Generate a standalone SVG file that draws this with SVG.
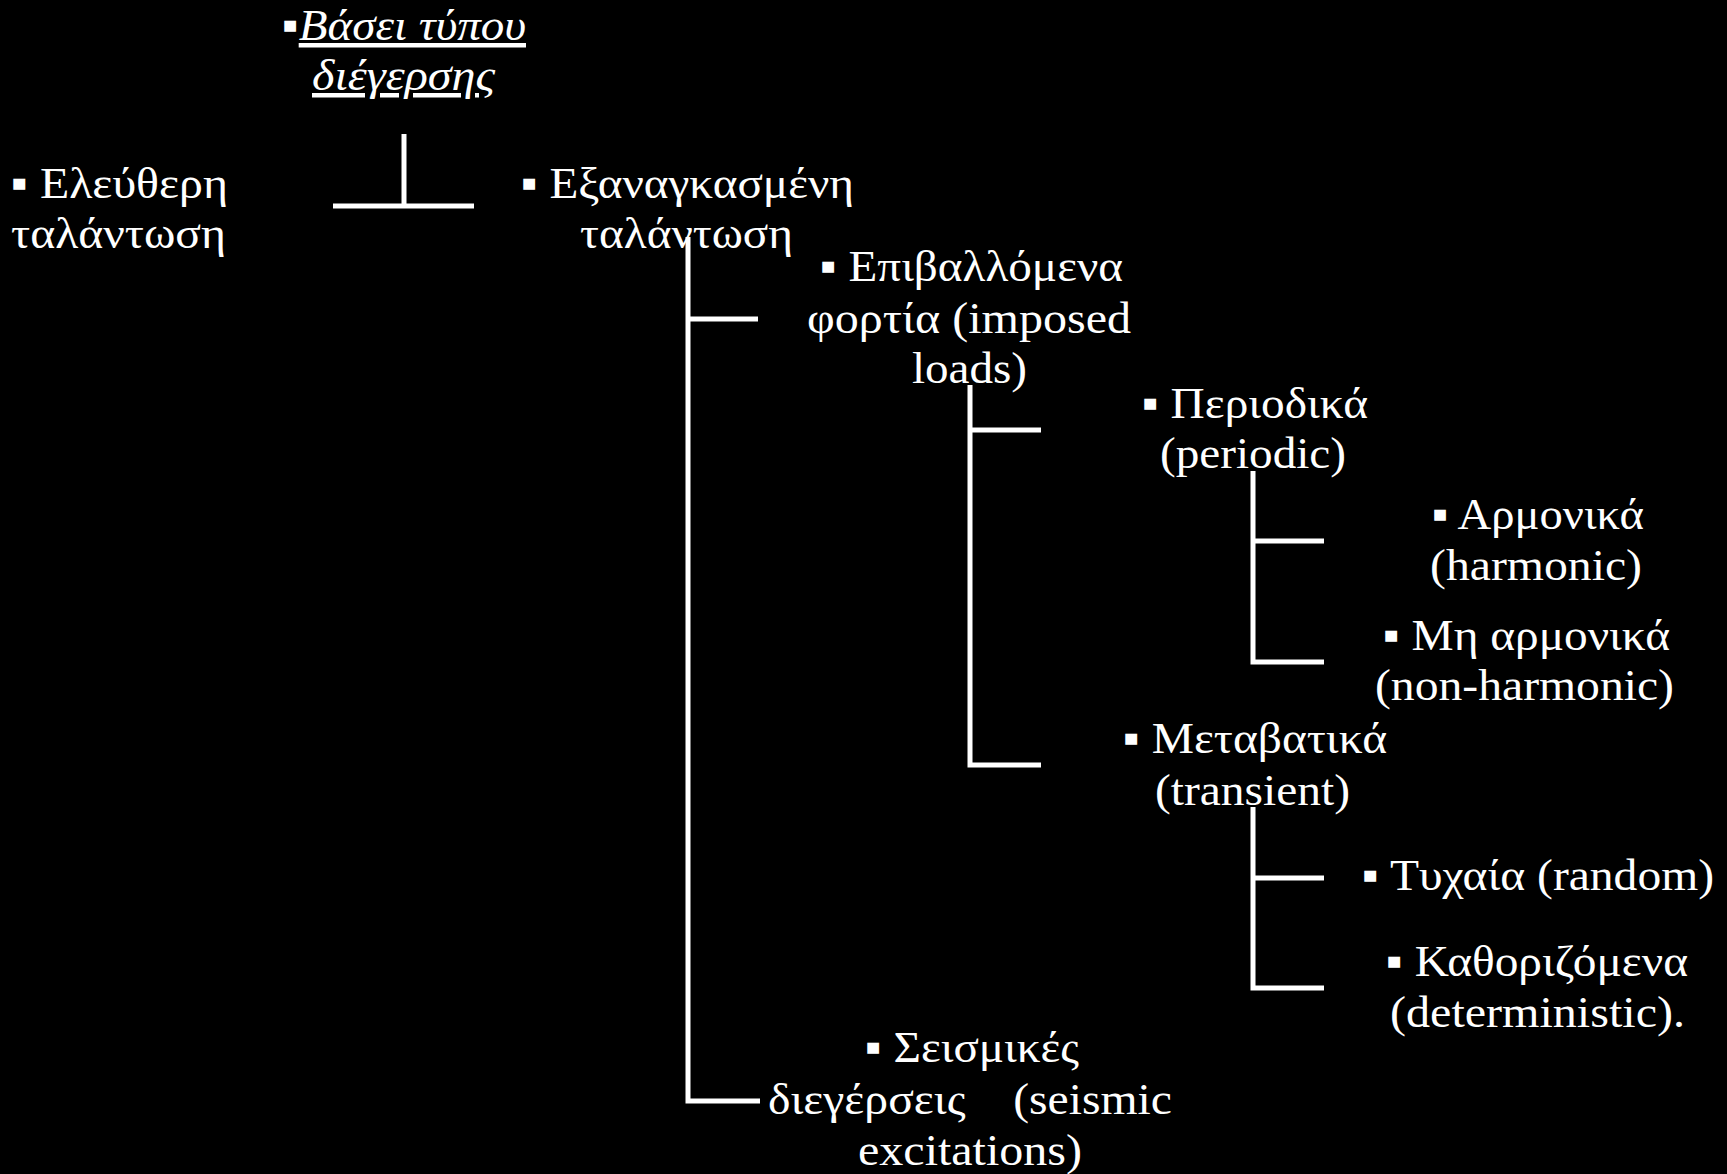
<svg xmlns="http://www.w3.org/2000/svg" width="1727" height="1174" viewBox="0 0 1727 1174">
  <style>
    .bg { fill: #000000; }
    .lbl { font-family: "Liberation Serif", "Times New Roman", serif; font-size: 45px; fill: #ffffff; }
    .ital { font-style: italic; }
    .ul { text-decoration: underline; }
    .wire { stroke: #ffffff; stroke-width: 5; fill: none; stroke-linecap: butt; }
  </style>
  <rect class="bg" x="0" y="0" width="1727" height="1174"/>

  <!-- tree connectors: one bracket per parent, ticks point at each child -->
  <g id="connectors">
    <path class="wire" d="M404,134 V206 M333,206 H474"/>
    <path class="wire" d="M688,237 V1101 H760 M688,319 H758"/>
    <path class="wire" d="M970,385 V765 H1041 M970,430 H1041"/>
    <path class="wire" d="M1253,471 V662 H1324 M1253,541 H1324"/>
    <path class="wire" d="M1253,807 V988 H1324 M1253,878 H1324"/>
  </g>

  <g id="node-criterion">
    <text class="lbl ital" x="282" y="40" textLength="244" lengthAdjust="spacingAndGlyphs">▪<tspan class="ul">Βάσει τύπου</tspan></text>
    <text class="lbl ital ul" x="312" y="90" textLength="183" lengthAdjust="spacingAndGlyphs">διέγερσης</text>
  </g>
  <g id="node-free">
    <text class="lbl" x="11" y="198" textLength="217" lengthAdjust="spacingAndGlyphs">▪ Ελεύθερη</text>
    <text class="lbl" x="11" y="248" textLength="215" lengthAdjust="spacingAndGlyphs">ταλάντωση</text>
  </g>
  <g id="node-forced">
    <text class="lbl" x="521" y="198" textLength="333" lengthAdjust="spacingAndGlyphs">▪ Εξαναγκασμένη</text>
    <text class="lbl" x="580" y="248" textLength="213" lengthAdjust="spacingAndGlyphs">ταλάντωση</text>
  </g>
  <g id="node-imposed">
    <text class="lbl" x="820" y="281" textLength="303" lengthAdjust="spacingAndGlyphs">▪ Επιβαλλόμενα</text>
    <text class="lbl" x="807" y="333" textLength="324" lengthAdjust="spacingAndGlyphs">φορτία (imposed</text>
    <text class="lbl" x="912" y="383" textLength="115" lengthAdjust="spacingAndGlyphs">loads)</text>
  </g>
  <g id="node-periodic">
    <text class="lbl" x="1142" y="418" textLength="226" lengthAdjust="spacingAndGlyphs">▪ Περιοδικά</text>
    <text class="lbl" x="1160" y="468" textLength="186" lengthAdjust="spacingAndGlyphs">(periodic)</text>
  </g>
  <g id="node-harmonic">
    <text class="lbl" x="1432" y="529" textLength="212" lengthAdjust="spacingAndGlyphs">▪ Αρμονικά</text>
    <text class="lbl" x="1430" y="580" textLength="212" lengthAdjust="spacingAndGlyphs">(harmonic)</text>
  </g>
  <g id="node-nonharmonic">
    <text class="lbl" x="1383" y="650" textLength="287" lengthAdjust="spacingAndGlyphs">▪ Μη αρμονικά</text>
    <text class="lbl" x="1375" y="700" textLength="299" lengthAdjust="spacingAndGlyphs">(non-harmonic)</text>
  </g>
  <g id="node-transient">
    <text class="lbl" x="1123" y="753" textLength="264" lengthAdjust="spacingAndGlyphs">▪ Μεταβατικά</text>
    <text class="lbl" x="1155" y="805" textLength="195" lengthAdjust="spacingAndGlyphs">(transient)</text>
  </g>
  <g id="node-random">
    <text class="lbl" x="1362" y="890" textLength="352" lengthAdjust="spacingAndGlyphs">▪ Τυχαία (random)</text>
  </g>
  <g id="node-deterministic">
    <text class="lbl" x="1386" y="976" textLength="302" lengthAdjust="spacingAndGlyphs">▪ Καθοριζόμενα</text>
    <text class="lbl" x="1390" y="1027" textLength="295" lengthAdjust="spacingAndGlyphs">(deterministic).</text>
  </g>
  <g id="node-seismic">
    <text class="lbl" x="865" y="1062" textLength="214" lengthAdjust="spacingAndGlyphs">▪ Σεισμικές</text>
    <text class="lbl" x="768" y="1114" textLength="404" lengthAdjust="spacingAndGlyphs" xml:space="preserve">διεγέρσεις    (seismic</text>
    <text class="lbl" x="858" y="1165" textLength="224" lengthAdjust="spacingAndGlyphs">excitations)</text>
  </g>
</svg>
